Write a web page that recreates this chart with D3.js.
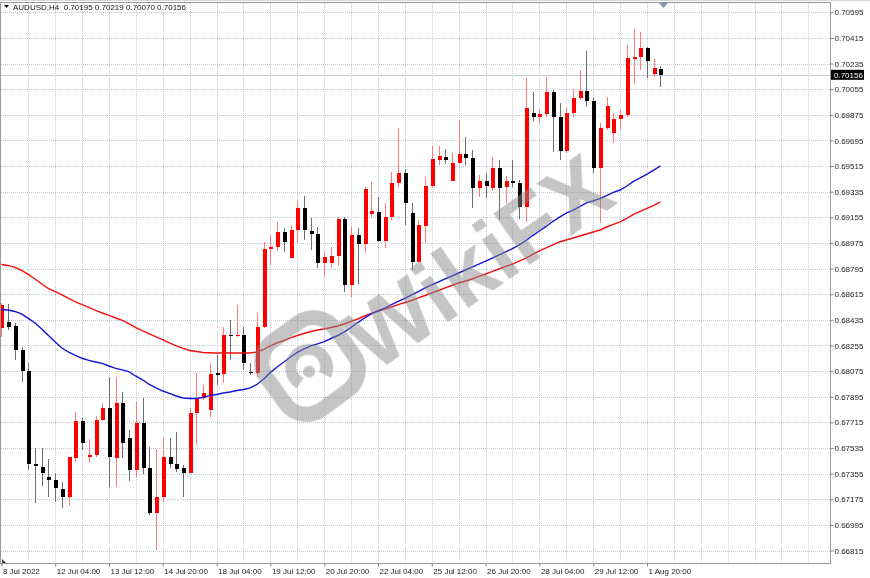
<!DOCTYPE html>
<html><head><meta charset="utf-8">
<script src="https://cdn.jsdelivr.net/npm/d3@7"></script>
<style>
html,body{margin:0;padding:0;background:#fff;}
svg{display:block;}
text{font-family:"Liberation Sans",Arial,sans-serif;}
</style></head>
<body>
<svg id="c" width="870" height="578"></svg>
<script>
// ---------- DATA ----------
const symbol = "AUDUSD,H4";
const opens  = [0.68376,0.68418,0.68392,0.68223,0.68078,0.67423,0.67404,0.67329,0.67310,0.67249,
0.67189,0.67463,0.67725,0.67474,0.67486,0.67732,0.67814,0.67467,0.67853,0.67603,
0.67381,0.67708,0.67393,0.67081,0.67193,0.67474,0.67421,0.67393,0.67362,0.67783,
0.67888,0.67802,0.68060,0.68053,0.68329,0.68322,0.68329,0.68071,0.68060,0.68387,
0.68933,0.68945,0.69054,0.68867,0.69066,0.69219,0.69061,0.69036,0.68837,0.68832,
0.68886,0.69145,0.68682,0.69033,0.68968,0.69176,0.69194,0.68991,0.69155,0.69394,
0.69464,0.69183,0.68844,0.69092,0.69377,0.69558,0.69581,0.69412,0.69535,0.69600,
0.69570,0.69363,0.69412,0.69359,0.69500,0.69366,0.69410,0.69394,0.69230,0.69886,
0.69858,0.69879,0.70037,0.69858,0.69621,0.69886,0.69995,0.70042,0.69974,0.69500,
0.69780,0.69745,0.69844,0.69874,0.70267,0.70279,0.70342,0.70162,0.70195];
const highs  = [0.68551,0.68546,0.68411,0.68247,0.68130,0.67533,0.67533,0.67458,0.67362,0.67298,
0.67474,0.67790,0.67744,0.67598,0.67760,0.67853,0.68034,0.68036,0.67930,0.67662,
0.67860,0.67884,0.67544,0.67526,0.67603,0.67603,0.67650,0.67416,0.67814,0.68060,
0.67978,0.68130,0.68188,0.68387,0.68434,0.68542,0.68387,0.68130,0.68481,0.68984,
0.69031,0.69125,0.69078,0.69101,0.69272,0.69305,0.69148,0.69089,0.68914,0.68949,
0.69155,0.69155,0.69089,0.69078,0.69370,0.69405,0.69296,0.69254,0.69471,0.69780,
0.69492,0.69258,0.69136,0.69440,0.69656,0.69656,0.69633,0.69605,0.69839,0.69717,
0.69628,0.69452,0.69464,0.69581,0.69558,0.69447,0.69558,0.69417,0.70131,0.70033,
0.69909,0.70143,0.70049,0.69956,0.69921,0.70054,0.70190,0.70325,0.69991,0.69815,
0.69998,0.69886,0.69909,0.70365,0.70476,0.70459,0.70349,0.70265,0.70219];
const lows   = [0.68317,0.68364,0.68153,0.68001,0.67381,0.67147,0.67268,0.67193,0.67158,0.67112,
0.67128,0.67439,0.67521,0.67428,0.67474,0.67725,0.67259,0.67263,0.67463,0.67305,
0.67334,0.67353,0.67065,0.66819,0.67158,0.67393,0.67369,0.67193,0.67356,0.67556,
0.67872,0.67755,0.67978,0.67989,0.68153,0.68315,0.68083,0.68048,0.68036,0.68381,
0.68820,0.68921,0.68914,0.68862,0.68977,0.68996,0.68926,0.68797,0.68734,0.68797,
0.68815,0.68633,0.68598,0.68687,0.68907,0.69160,0.68984,0.68938,0.69136,0.69370,
0.69101,0.68785,0.68841,0.68984,0.69370,0.69523,0.69530,0.69409,0.69531,0.69523,
0.69223,0.69296,0.69289,0.69342,0.69136,0.69254,0.69370,0.69141,0.69125,0.69834,
0.69815,0.69862,0.69616,0.69558,0.69605,0.69862,0.69979,0.69932,0.69464,0.69117,
0.69768,0.69679,0.69768,0.69862,0.70089,0.70190,0.70131,0.70139,0.70070];
const closes = [0.68542,0.68387,0.68223,0.68078,0.67421,0.67409,0.67357,0.67310,0.67252,0.67193,
0.67470,0.67725,0.67572,0.67486,0.67732,0.67814,0.67474,0.67849,0.67568,0.67381,
0.67708,0.67397,0.67077,0.67189,0.67474,0.67421,0.67390,0.67362,0.67783,0.67888,
0.67924,0.68053,0.68048,0.68329,0.68322,0.68329,0.68134,0.68060,0.68387,0.68933,
0.68945,0.69054,0.68984,0.69066,0.69219,0.69066,0.69038,0.68837,0.68879,0.68886,
0.69145,0.68680,0.69033,0.68968,0.69354,0.69199,0.68989,0.69155,0.69394,0.69464,
0.69254,0.68844,0.69101,0.69375,0.69563,0.69584,0.69558,0.69535,0.69600,0.69570,
0.69363,0.69412,0.69375,0.69500,0.69359,0.69410,0.69394,0.69230,0.69925,0.69858,
0.69879,0.70037,0.69858,0.69621,0.69886,0.69995,0.70044,0.69974,0.69500,0.69785,
0.69937,0.69846,0.69874,0.70272,0.70279,0.70342,0.70255,0.70202,0.70156];
const maFast = [0.68508,0.68504,0.68494,0.68477,0.68445,0.68413,0.68371,0.68325,0.68280,0.68237,
0.68209,0.68185,0.68165,0.68150,0.68139,0.68129,0.68111,0.68094,0.68084,0.68069,
0.68039,0.68013,0.67981,0.67957,0.67935,0.67918,0.67900,0.67886,0.67883,0.67883,
0.67890,0.67904,0.67911,0.67921,0.67928,0.67939,0.67946,0.67957,0.67981,0.68020,
0.68066,0.68104,0.68139,0.68174,0.68206,0.68231,0.68252,0.68266,0.68282,0.68304,
0.68325,0.68350,0.68381,0.68416,0.68448,0.68477,0.68497,0.68518,0.68542,0.68564,
0.68585,0.68610,0.68634,0.68659,0.68680,0.68701,0.68722,0.68743,0.68764,0.68785,
0.68806,0.68827,0.68848,0.68869,0.68891,0.68912,0.68936,0.68961,0.68992,0.69027,
0.69059,0.69091,0.69126,0.69157,0.69185,0.69206,0.69231,0.69256,0.69270,0.69287,
0.69308,0.69330,0.69347,0.69375,0.69407,0.69432,0.69459,0.69487,0.69516];
const maSlow = [0.68824,0.68817,0.68803,0.68782,0.68754,0.68722,0.68687,0.68655,0.68634,0.68610,
0.68585,0.68561,0.68542,0.68522,0.68501,0.68483,0.68466,0.68448,0.68431,0.68406,
0.68381,0.68357,0.68336,0.68315,0.68294,0.68273,0.68252,0.68234,0.68220,0.68213,
0.68206,0.68204,0.68202,0.68202,0.68202,0.68202,0.68202,0.68202,0.68209,0.68227,
0.68252,0.68273,0.68290,0.68308,0.68325,0.68339,0.68353,0.68364,0.68371,0.68381,
0.68392,0.68406,0.68424,0.68441,0.68462,0.68480,0.68497,0.68511,0.68525,0.68542,
0.68557,0.68571,0.68589,0.68606,0.68624,0.68641,0.68659,0.68676,0.68694,0.68708,
0.68722,0.68740,0.68757,0.68775,0.68792,0.68810,0.68827,0.68848,0.68869,0.68894,
0.68919,0.68940,0.68961,0.68982,0.68996,0.69010,0.69024,0.69038,0.69052,0.69066,
0.69087,0.69105,0.69123,0.69147,0.69175,0.69197,0.69218,0.69239,0.69263];
const priceTicks = [0.70595,0.70415,0.70235,0.70055,0.69875,0.69695,0.69515,0.69335,0.69155,0.68975,
0.68795,0.68615,0.68435,0.68255,0.68075,0.67895,0.67715,0.67535,0.67355,0.67175,0.66995,0.66815];
const timeLabels = ["8 Jul 2022","12 Jul 04:00","13 Jul 12:00","14 Jul 20:00","18 Jul 04:00","19 Jul 12:00",
"20 Jul 20:00","22 Jul 04:00","25 Jul 12:00","26 Jul 20:00","28 Jul 04:00","29 Jul 12:00","1 Aug 20:00"];
const timeLabelBars = [0,8,16,24,32,40,48,56,64,72,80,88,96];
const gridBars = d3.range(4, 124, 4);

// ---------- LAYOUT ----------
const W = 870, H = 578;
const plotL = 0.5, plotT = 2.5, plotR = 830.5, plotB = 563.5;
const svg = d3.select("#c");
const x = d3.scaleLinear().domain([0, 123.2]).range([1.4, 829.9]);
const y = d3.scaleLinear().domain([0.66815, 0.70595]).range([550.5, 12.3]);
const fmt = d3.format(".5f");
const n = closes.length;
const bars = d3.range(n).map(i => ({i, o: opens[i], h: highs[i], l: lows[i], c: closes[i]}));

svg.append("rect").attr("width", W).attr("height", H).attr("fill", "#fff");

// grid
const grid = svg.append("g").attr("stroke", "#c3cbd5").attr("stroke-width", 1)
  .attr("stroke-dasharray", "1,1").attr("shape-rendering", "crispEdges");
grid.selectAll("line.h").data(priceTicks).join("line")
  .attr("x1", plotL).attr("x2", plotR)
  .attr("y1", d => Math.round(y(d)) + 0.5).attr("y2", d => Math.round(y(d)) + 0.5);
grid.selectAll("line.v").data(gridBars).join("line")
  .attr("y1", plotT).attr("y2", plotB)
  .attr("x1", d => Math.round(x(d)) + 0.5).attr("x2", d => Math.round(x(d)) + 0.5);

// current price line
const last = closes[n - 1];
svg.append("line").attr("x1", plotL).attr("x2", plotR)
  .attr("y1", Math.round(y(last)) + 0.5).attr("y2", Math.round(y(last)) + 0.5)
  .attr("stroke", "#c3cad3").attr("stroke-width", 1);

// candles
const cg = svg.append("g").attr("shape-rendering", "crispEdges");
cg.selectAll("line.w").data(bars).join("line")
  .attr("x1", d => Math.round(x(d.i)) + 0.5).attr("x2", d => Math.round(x(d.i)) + 0.5)
  .attr("y1", d => y(d.h)).attr("y2", d => y(d.l))
  .attr("stroke", d => d.c >= d.o ? "#ff7a7a" : "#6e6e6e").attr("stroke-width", 1);
cg.selectAll("rect.b").data(bars).join("rect")
  .attr("x", d => Math.round(x(d.i)) - 1.5)
  .attr("width", 4)
  .attr("y", d => y(Math.max(d.o, d.c)))
  .attr("height", d => Math.max(1.2, y(Math.min(d.o, d.c)) - y(Math.max(d.o, d.c))))
  .attr("fill", d => d.c >= d.o ? "#ff0000" : "#000000");

// moving averages
const line = d3.line().x((d, i) => x(i)).y(d => y(d));
svg.append("path").datum(maSlow).attr("d", line).attr("fill", "none")
  .attr("stroke", "#f01010").attr("stroke-width", 1.4);
svg.append("path").datum(maFast).attr("d", line).attr("fill", "none")
  .attr("stroke", "#1414d8").attr("stroke-width", 1.4);

// watermark
const wm = svg.append("g").attr("opacity", 0.5).attr("fill", "#8a8a8a");
const lg = wm.append("g").attr("transform", "translate(310,366) rotate(-36)");
lg.append("rect").attr("x", -42).attr("y", -42).attr("width", 84).attr("height", 84).attr("rx", 26)
  .attr("fill", "none").attr("stroke", "#8a8a8a").attr("stroke-width", 15);
lg.append("path")
  .attr("d", "M-24,10 A24,24 0 1,1 10,22 L4,10 A12,12 0 1,0 -12,6 Z");
lg.append("circle").attr("cx", -4).attr("cy", 4).attr("r", 6);
wm.append("text").attr("transform", "translate(478,262) rotate(-35)")
  .attr("text-anchor", "middle").attr("dy", "0.36em")
  .style("font-family", "'Liberation Sans',Arial,sans-serif")
  .style("font-weight", "bold").style("font-size", "90px").text("WikiFX");

// plot frame
svg.append("rect").attr("x", plotL).attr("y", plotT).attr("width", plotR - plotL).attr("height", plotB - plotT)
  .attr("fill", "none").attr("stroke", "#9a9a9a").attr("stroke-width", 1).attr("shape-rendering", "crispEdges");
svg.append("line").attr("x1", 0).attr("x2", W).attr("y1", 0.5).attr("y2", 0.5).attr("stroke", "#d8d8d8");

// right axis
const ya = svg.append("g").attr("transform", `translate(${plotR},0)`)
  .call(d3.axisRight(y).tickValues(priceTicks).tickSize(3).tickPadding(1).tickFormat(fmt));
ya.select(".domain").remove();
ya.selectAll("line").attr("stroke", "#808080");
ya.selectAll("text").attr("fill", "#222").style("font-size", "8px")
  .style("font-family", "'Liberation Sans',Arial,sans-serif");

// bottom axis
const xa = svg.append("g").attr("transform", `translate(0,${plotB})`)
  .call(d3.axisBottom(x).tickValues(timeLabelBars).tickSize(3).tickPadding(2)
    .tickFormat((d, k) => timeLabels[k]));
xa.select(".domain").remove();
xa.selectAll("line").attr("stroke", "#808080");
xa.selectAll("text").attr("text-anchor", "start").attr("x", 1).attr("fill", "#222")
  .style("font-size", "8px").style("font-family", "'Liberation Sans',Arial,sans-serif");

// current price tag
const tagY = y(last);
svg.append("rect").attr("x", 831).attr("y", tagY - 5).attr("width", 33).attr("height", 10).attr("fill", "#000");
svg.append("text").attr("x", 834).attr("y", tagY).attr("dy", "0.35em").attr("fill", "#fff")
  .style("font-size", "8px").text(fmt(last));

// header
svg.append("path").attr("d", "M4,5 L9,5 L6.5,8 Z").attr("fill", "#000");
svg.append("text").attr("x", 13).attr("y", 10).attr("fill", "#111").style("font-size", "8px")
  .attr("xml:space", "preserve")
  .text(`${symbol}  ${fmt(opens[n-1])} ${fmt(highs[n-1])} ${fmt(lows[n-1])} ${fmt(closes[n-1])}`);

// chart shift marker
svg.append("path").attr("d", "M659,3 L668,3 L663.5,8 Z").attr("fill", "#8594a8");
svg.append("path").attr("d", "M2,559 L2,563 L6,563 Z").attr("fill", "#334");
</script>
</body></html>
